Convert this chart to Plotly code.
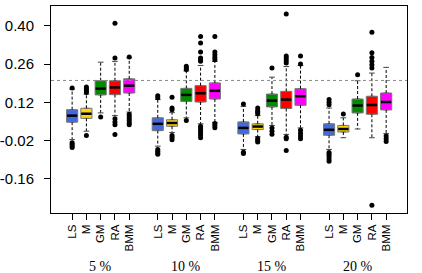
import plotly.graph_objects as go

groups = ["5 %", "10 %", "15 %", "20 %"]
methods = ["LS", "M", "GM", "RA", "BMM"]
colors = ["#4169E1", "#FFD700", "#008B00", "#FF0000", "#FF00FF"]

q1 = {
    "LS": [0.047, 0.016, 0.004, -0.001],
    "M": [0.061, 0.032, 0.020, 0.011],
    "GM": [0.147, 0.123, 0.103, 0.081],
    "RA": [0.148, 0.121, 0.097, 0.076],
    "BMM": [0.154, 0.132, 0.109, 0.092],
}
med = {
    "LS": [0.071, 0.041, 0.026, 0.019],
    "M": [0.078, 0.044, 0.031, 0.022],
    "GM": [0.170, 0.147, 0.126, 0.108],
    "RA": [0.1745, 0.153, 0.130, 0.110],
    "BMM": [0.181, 0.162, 0.142, 0.121],
}
q3 = {
    "LS": [0.093, 0.063, 0.048, 0.041],
    "M": [0.098, 0.056, 0.041, 0.035],
    "GM": [0.199, 0.171, 0.150, 0.132],
    "RA": [0.199, 0.181, 0.160, 0.142],
    "BMM": [0.206, 0.191, 0.170, 0.154],
}
lo = {
    "LS": [-0.017, -0.041, -0.053, -0.053],
    "M": [0.014, 0.009, -0.006, -0.010],
    "GM": [0.081, 0.063, 0.035, 0.022],
    "RA": [0.071, 0.041, 0.002, -0.010],
    "BMM": [0.084, 0.046, 0.026, 0.005],
}
hi = {
    "LS": [0.168, 0.130, 0.105, 0.099],
    "M": [0.150, 0.082, 0.071, 0.063],
    "GM": [0.267, 0.235, 0.212, 0.199],
    "RA": [0.270, 0.255, 0.251, 0.227],
    "BMM": [0.283, 0.270, 0.255, 0.248],
}
outliers = {
    "LS": [[0.172, -0.028, -0.034, -0.040, -0.046],
           [0.137, 0.144, -0.053, -0.060, -0.066, -0.071],
           [0.114, -0.063, -0.068],
           [0.111, 0.120, 0.130, -0.064, -0.071, -0.079, -0.088, -0.096]],
    "M": [[0.156, 0.163, 0.170, 0.176, -0.002],
          [0.093, 0.099, 0.138, -0.002, -0.009, -0.017],
          [0.078, 0.084, 0.089, 0.099, -0.013, -0.020, -0.026],
          [0.077]],
    "GM": [[0.066],
           [0.240, 0.246, 0.252, 0.053],
           [0.246, 0.026, 0.014, 0.003],
           [0.221]],
    "RA": [[0.282, 0.410, 0.060, 0.048, 0.038, 0.002],
           [0.361, 0.337, 0.304, 0.282, 0.276, 0.270, 0.032, 0.024, 0.016, 0.008, 0.0, -0.010],
           [0.444, 0.290, 0.282, 0.273, 0.264, -0.008, -0.014, -0.057],
           [0.377, 0.302, 0.284, 0.270, 0.258, 0.246, -0.258]],
    "BMM": [[0.286, 0.076, 0.068, 0.060, 0.052, 0.044, 0.038],
            [0.361, 0.304, 0.294, 0.284, 0.276, 0.042, 0.035, 0.027],
            [0.290, 0.260, 0.017, 0.006, -0.004, -0.014],
            [-0.004, -0.014, -0.024]],
}
ref_line = 0.20
ytick_vals = [-0.16, -0.02, 0.12, 0.26, 0.40]
ytick_text = ["-0.16", "-0.02", "0.12", "0.26", "0.40"]

BOX_W = 0.78
CAP_W = 0.2

fig = go.Figure()

tickvals, ticktext = [], []
for mi, m in enumerate(methods):
    pos = [1 + gi * 6 + mi for gi in range(len(groups))]
    tickvals += pos
    ticktext += [m] * len(groups)
    wx, wy, cx, cy = [], [], [], []
    for gi, p in enumerate(pos):
        wx += [p, p, None, p, p, None]
        wy += [q3[m][gi], hi[m][gi], None, q1[m][gi], lo[m][gi], None]
        cx += [p - CAP_W, p + CAP_W, None, p - CAP_W, p + CAP_W, None]
        cy += [hi[m][gi], hi[m][gi], None, lo[m][gi], lo[m][gi], None]
    fig.add_trace(go.Scatter(x=wx, y=wy, mode="lines",
                             line=dict(color="black", width=1, dash="3px,2px"),
                             hoverinfo="skip", showlegend=False))
    fig.add_trace(go.Scatter(x=cx, y=cy, mode="lines",
                             line=dict(color="#444", width=1),
                             hoverinfo="skip", showlegend=False))
    fig.add_trace(go.Box(x=pos, q1=q1[m], median=med[m], q3=q3[m],
                         lowerfence=q1[m], upperfence=q3[m],
                         width=BOX_W, fillcolor=colors[mi],
                         line=dict(color="#777", width=1),
                         boxpoints=False, showlegend=False, name=m))
    mx, my = [], []
    for gi, p in enumerate(pos):
        mx += [p - BOX_W / 2 + 0.03, p + BOX_W / 2 - 0.03, None]
        my += [med[m][gi], med[m][gi], None]
    fig.add_trace(go.Scatter(x=mx, y=my, mode="lines",
                             line=dict(color="black", width=2.5),
                             hoverinfo="skip", showlegend=False))
    ox, oy = [], []
    for gi, p in enumerate(pos):
        ox += [p] * len(outliers[m][gi])
        oy += outliers[m][gi]
    fig.add_trace(go.Scatter(x=ox, y=oy, mode="markers",
                             marker=dict(color="black", size=5),
                             hoverinfo="skip", showlegend=False))

fig.add_shape(type="line", xref="paper", x0=0, x1=1, yref="y", y0=ref_line, y1=ref_line,
              line=dict(color="#888", width=1, dash="3px,3px"))

for gi, g in enumerate(groups):
    fig.add_annotation(x=1 + gi * 6 + 2, y=0, xref="x", yref="paper",
                       text=g, showarrow=False, yanchor="middle", yshift=-53,
                       font=dict(family="Liberation Serif", size=14, color="black"))

fig.update_layout(
    width=422, height=273,
    margin=dict(l=51, r=15, t=6, b=59.5, autoexpand=False),
    plot_bgcolor="white", paper_bgcolor="white",
    boxmode="overlay",
    showlegend=False,
    xaxis=dict(range=[-0.48, 24.46], tickmode="array", tickvals=tickvals, ticktext=ticktext,
               tickangle=-90, ticks="outside", ticklen=6, tickcolor="black",
               showgrid=False, zeroline=False, showline=True, linecolor="black",
               linewidth=1, mirror=True, automargin=False,
               tickfont=dict(family="Liberation Sans", size=11.5, color="black")),
    yaxis=dict(range=[-0.286, 0.473], tickmode="array", tickvals=ytick_vals, ticktext=ytick_text,
               ticks="outside", ticklen=6, tickcolor="black",
               showgrid=False, zeroline=False, showline=True, linecolor="black",
               linewidth=1, mirror=True, ticklabelstandoff=7, automargin=False,
               tickfont=dict(family="Liberation Sans", size=15, color="black")),
)

fig.write_html("out.html", config={"displayModeBar": False},
               post_script="document.body.style.margin='0';document.body.style.padding='0';")
